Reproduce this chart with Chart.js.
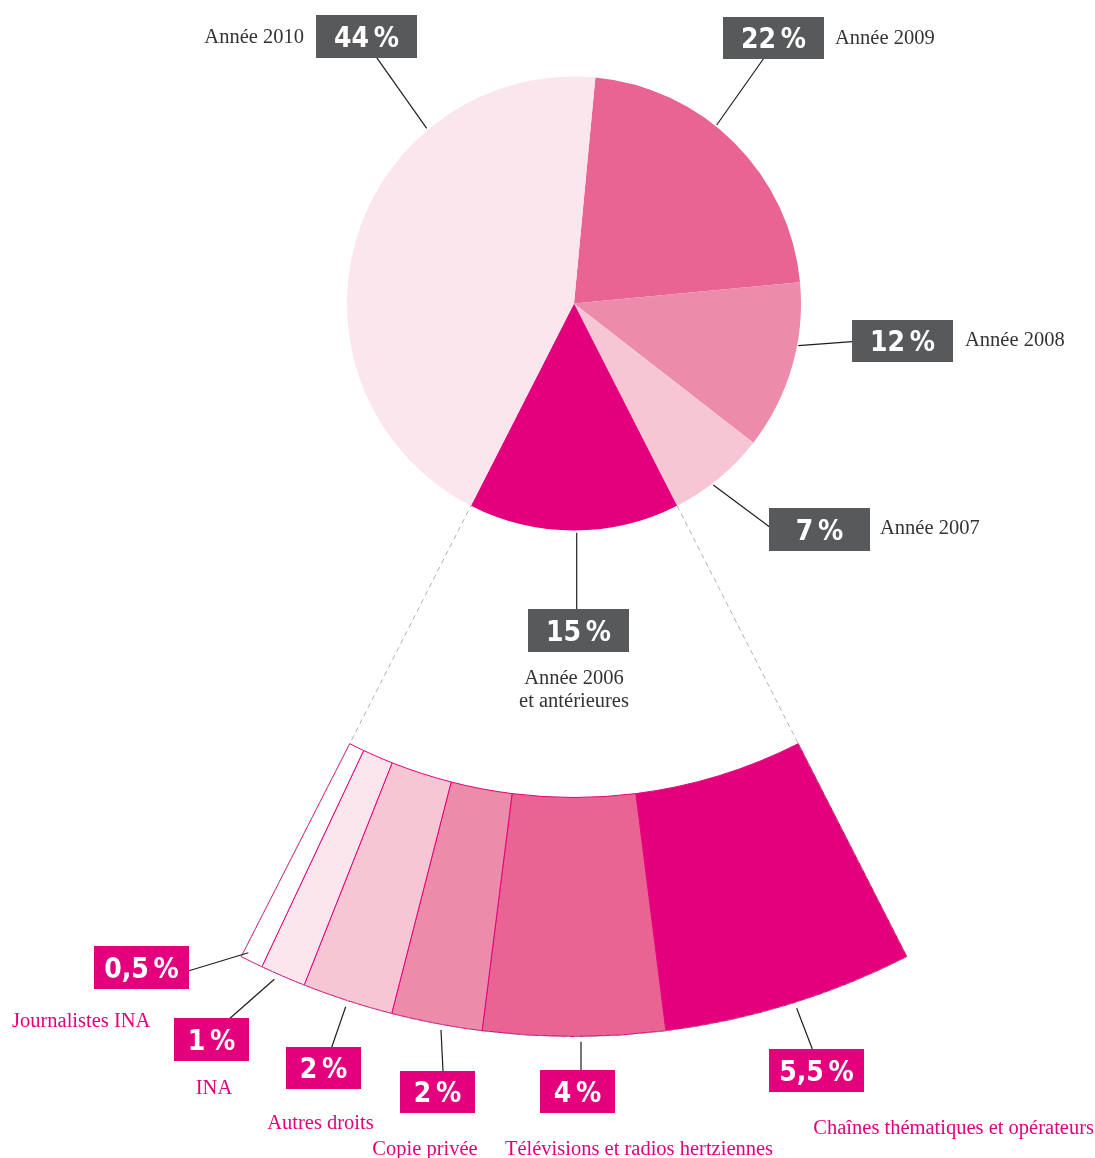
<!DOCTYPE html>
<html lang="fr">
<head>
<meta charset="utf-8">
<title>Répartition par année</title>
<script src="https://cdn.jsdelivr.net/npm/chart.js@4.4.0/dist/chart.umd.min.js"></script>
<style>
  html, body { margin: 0; padding: 0; background: #ffffff; }
  #wrap { position: relative; width: 1095px; height: 1158px; overflow: hidden; }
  #wrap canvas, #wrap svg { position: absolute; left: 0; top: 0; }
  .val { font-family: "DejaVu Sans Condensed", "DejaVu Sans", sans-serif; font-stretch: semi-condensed; font-weight: bold; font-size: 28px; fill: #ffffff; word-spacing: -4px; }
  .lab { font-family: "Liberation Serif", "Times New Roman", serif; font-size: 20.5px; fill: #333333; }
  .labm { font-family: "Liberation Serif", "Times New Roman", serif; font-size: 20.5px; fill: #e4007c; }
</style>
</head>
<body>
<div id="wrap">
  <canvas id="pie" width="1095" height="1158"></canvas>
  <canvas id="ring" width="1095" height="1158"></canvas>
  <svg id="ann" width="1095" height="1158" xmlns="http://www.w3.org/2000/svg"></svg>
</div>
<script>
// ---------- DATA ----------
// Top pie, clockwise starting from the top
const pieLabels = ['Année 2009', 'Année 2008', 'Année 2007', 'Année 2006 et antérieures', 'Année 2010'];
const pieValues = [22, 12, 7, 15, 44];
// Breakdown of "Année 2006 et antérieures" (clockwise, from right to left)
const ringLabels = ['Chaînes thématiques et opérateurs', 'Télévisions et radios hertziennes', 'Copie privée', 'Autres droits', 'INA', 'Journalistes INA'];
const ringValues = [5.5, 4, 2, 2, 1, 0.5];

// ---------- STYLES ----------
const pieColors = ['#ea6493', '#ed8bab', '#f6c6d5', '#e4007c', '#fae6ec'];
const ringColors = ['#e4007c', '#ea6493', '#ed8bab', '#f6c6d5', '#fae6ec', '#ffffff'];
const MAGENTA = '#e4007c';
const GREY_BOX = '#58595b';

const CENTER = { x: 574, y: 303.5 };
const PIE_R = 227;
const RING_OUT = 733;
const RING_IN = 494;
const PIE_ROTATION = 5.4;

const total = pieValues.reduce((a, b) => a + b, 0);
const explodedIndex = 3;
const before = pieValues.slice(0, explodedIndex).reduce((a, b) => a + b, 0);
const ringRotation = PIE_ROTATION + before / total * 360;
const ringCircumference = pieValues[explodedIndex] / total * 360;

function fmtPct(v) { return String(v).replace('.', ',') + ' %'; }

function centerChart(chart, cx, cy) {
  const W = chart.width, H = chart.height;
  const a = chart.getDatasetMeta(0).data[0];
  const ca = chart.chartArea;
  const ox = a.x - (ca.left + ca.right) / 2;
  const oy = a.y - (ca.top + ca.bottom) / 2;
  const tx = cx - ox, ty = cy - oy;
  chart.options.layout.padding = {
    left: Math.max(0, 2 * tx - W), right: Math.max(0, W - 2 * tx),
    top: Math.max(0, 2 * ty - H), bottom: Math.max(0, H - 2 * ty)
  };
  chart.update('none');
}

const commonOpts = {
  responsive: false,
  animation: false,
  events: [],
  layout: { padding: 0 },
  plugins: { legend: { display: false }, tooltip: { enabled: false } }
};

const pieChart = new Chart(document.getElementById('pie'), {
  type: 'pie',
  data: {
    labels: pieLabels,
    datasets: [{ data: pieValues, backgroundColor: pieColors, borderWidth: 0, clip: false }]
  },
  options: Object.assign({}, commonOpts, {
    rotation: PIE_ROTATION,
    radius: PIE_R
  })
});
centerChart(pieChart, CENTER.x, CENTER.y);

const wedgeOutline = {
  id: 'wedgeOutline',
  afterDatasetsDraw(chart) {
    const arcs = chart.getDatasetMeta(0).data;
    const first = arcs[0], last = arcs[arcs.length - 1];
    const x = first.x, y = first.y;
    const sa = first.startAngle, ea = last.endAngle;
    const pr = pieChart.getDatasetMeta(0).data[0].outerRadius;
    const outer = first.outerRadius;
    const ctx = chart.ctx;
    ctx.save();
    ctx.setLineDash([5, 4]);
    ctx.lineWidth = 1;
    ctx.strokeStyle = 'rgba(150,150,150,0.75)';
    ctx.beginPath();
    ctx.moveTo(x + pr * Math.cos(sa), y + pr * Math.sin(sa));
    ctx.lineTo(x + outer * Math.cos(sa), y + outer * Math.sin(sa));
    ctx.arc(x, y, outer, sa, ea);
    ctx.lineTo(x + pr * Math.cos(ea), y + pr * Math.sin(ea));
    ctx.stroke();
    ctx.restore();
  }
};

const ringChart = new Chart(document.getElementById('ring'), {
  type: 'doughnut',
  data: {
    labels: ringLabels,
    datasets: [{ data: ringValues, backgroundColor: ringColors, borderColor: MAGENTA, borderWidth: 1, clip: false }]
  },
  options: Object.assign({}, commonOpts, {
    rotation: ringRotation,
    circumference: ringCircumference,
    radius: RING_OUT,
    cutout: (RING_IN / RING_OUT * 100) + '%'
  }),
  plugins: [wedgeOutline]
});
centerChart(ringChart, CENTER.x, CENTER.y);

// ---------- ANNOTATIONS ----------
const svg = document.getElementById('ann');
const NS = 'http://www.w3.org/2000/svg';
function el(tag, attrs, text) {
  const e = document.createElementNS(NS, tag);
  for (const k in attrs) e.setAttribute(k, attrs[k]);
  if (text !== undefined) e.textContent = text;
  svg.appendChild(e);
  return e;
}
function line(x1, y1, x2, y2) {
  el('line', { x1, y1, x2, y2, stroke: '#1e1e1e', 'stroke-width': 1.2 });
}
function box(x, y, w, h, fill, text) {
  el('rect', { x, y, width: w, height: h, fill });
  el('text', { x: x + w / 2, y: y + h / 2 + 10.2, 'text-anchor': 'middle', class: 'val' }, text);
}

// Top pie annotations: [leader line], box, label
const topAnn = [
  { i: 4, l: [376.7, 57.7, 426.7, 128.3], b: [316, 15, 101, 43], t: [[304, 43, 'end']] },
  { i: 0, l: [763.3, 59, 716.7, 125], b: [723, 17, 101, 42], t: [[835, 44, 'start']] },
  { i: 1, l: [852.3, 341.7, 798.3, 345.7], b: [852, 320, 101, 42], t: [[965, 346, 'start']] },
  { i: 2, l: [769.3, 526.7, 713.3, 485], b: [769, 508, 101, 43], t: [[880, 534, 'start']] },
  { i: 3, l: [576.7, 532.7, 576.7, 609], b: [528, 609, 101, 43], t: [[574, 684, 'middle', 'Année 2006'], [574, 707, 'middle', 'et antérieures']] }
];
topAnn.forEach(a => {
  line(...a.l);
  box(a.b[0], a.b[1], a.b[2], a.b[3], GREY_BOX, fmtPct(pieValues[a.i]));
  a.t.forEach(t => el('text', { x: t[0], y: t[1], 'text-anchor': t[2], class: 'lab' }, t[3] || pieLabels[a.i]));
});

const botAnn = [
  { i: 5, l: [189, 970.7, 248.3, 952.7], b: [94, 946, 95, 43], t: [12, 1027, 'start'] },
  { i: 4, l: [230, 1018.3, 274.3, 979.3], b: [174, 1018, 75, 43], t: [214, 1094, 'middle'] },
  { i: 3, l: [331.7, 1047.3, 345.7, 1006.7], b: [286, 1047, 75, 42], t: [320.5, 1129, 'middle'] },
  { i: 2, l: [443, 1071, 441, 1030], b: [400, 1071, 75, 42], t: [425, 1155, 'middle'] },
  { i: 1, l: [581, 1070, 581, 1041.7], b: [540, 1070, 75, 43], t: [639, 1155, 'middle'] },
  { i: 0, l: [812.3, 1049, 796.7, 1008.3], b: [769, 1049, 95, 43], t: [1094, 1134, 'end'] }
];
botAnn.forEach(a => {
  line(...a.l);
  box(a.b[0], a.b[1], a.b[2], a.b[3], MAGENTA, fmtPct(ringValues[a.i]));
  el('text', { x: a.t[0], y: a.t[1], 'text-anchor': a.t[2], class: 'labm' }, ringLabels[a.i]);
});
</script>
</body>
</html>
